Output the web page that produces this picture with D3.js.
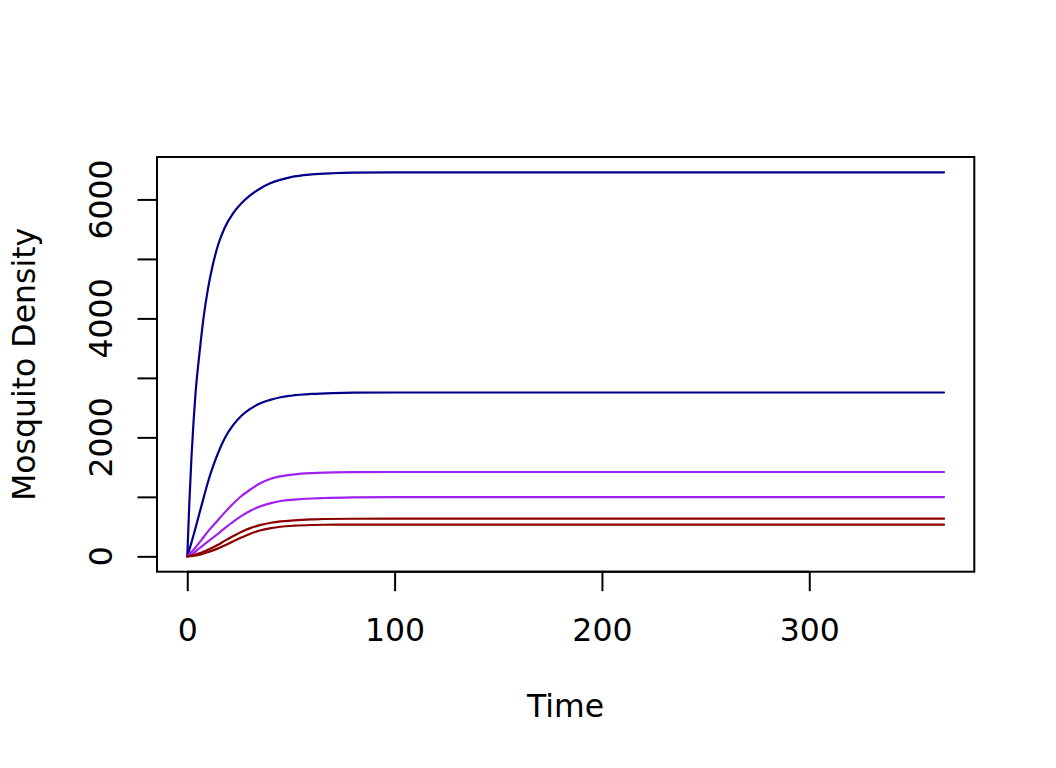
<!DOCTYPE html>
<html>
<head>
<meta charset="utf-8">
<script src="https://cdn.jsdelivr.net/npm/d3@7"></script>
<style>
  html, body { margin: 0; padding: 0; background: #ffffff; }
  svg { display: block; }
  text { font-family: "DejaVu Sans", sans-serif; fill: #000; }
</style>
</head>
<body>
<svg id="chart" width="1056" height="768"></svg>
<script>
// ---- data ----
const xTickValues = [0, 100, 200, 300];
const xTickLabels = ["0", "100", "200", "300"];
const yTickValues = [0, 1000, 2000, 3000, 4000, 5000, 6000];
const yTickLabels = ["0", "2000", "4000", "6000"];
const yLabelValues = [0, 2000, 4000, 6000];

const seriesNames = ["blue high", "blue low", "purple high", "purple low", "red high", "red low"];
const seriesColors = ["#00008B", "#00008B", "#A020F0", "#A020F0", "#8B0000", "#8B0000"];

const timeBlueHigh = [0, 1, 2, 3, 4, 6, 8, 10, 12, 15, 18, 22, 26, 30, 35, 40, 50, 60, 70, 80, 100, 150, 200, 250, 300, 365];
const valBlueHigh  = [0, 900, 1650, 2250, 2750, 3450, 4050, 4500, 4850, 5250, 5520, 5760, 5930, 6060, 6180, 6270, 6375, 6420, 6440, 6450, 6455, 6455, 6455, 6455, 6455, 6455];

const timeBlueLow = [0, 2, 4, 6, 8, 10, 12, 15, 18, 22, 26, 30, 35, 40, 45, 50, 60, 70, 80, 100, 150, 200, 250, 300, 365];
const valBlueLow  = [0, 230, 480, 740, 1000, 1250, 1470, 1750, 1980, 2200, 2360, 2470, 2570, 2630, 2675, 2700, 2730, 2745, 2752, 2754, 2754, 2754, 2754, 2754, 2754];

const timePurpleHigh = [0, 3, 6.6, 10, 14.6, 18, 22.7, 26, 30.7, 35, 40.3, 45, 51.6, 60, 66, 80, 100, 150, 200, 250, 300, 365];
const valPurpleHigh  = [0, 110, 265, 420, 600, 735, 905, 1010, 1130, 1225, 1305, 1345, 1379, 1400, 1408, 1415, 1418, 1418, 1418, 1418, 1418, 1418];

const timePurpleLow = [0, 3, 6, 8.2, 11.5, 14.6, 18, 22.7, 26, 30.7, 35, 40.3, 45, 51.6, 60, 66, 80, 100, 150, 200, 250, 300, 365];
const valPurpleLow  = [0, 55, 140, 200, 290, 375, 470, 595, 675, 770, 838, 895, 930, 953, 972, 981, 992, 997, 997, 997, 997, 997, 997];

const timeRedHigh = [0, 3, 6.6, 10, 14.6, 18, 22.7, 26, 30.7, 35, 40.3, 45, 51.6, 60, 66, 80, 100, 150, 200, 250, 300, 365];
const valRedHigh  = [0, 20, 60, 110, 190, 260, 350, 410, 478, 525, 565, 588, 605, 620, 628, 632, 634, 634, 634, 634, 634, 634];

const timeRedLow = [0, 3, 6.6, 10, 14.6, 18, 22.7, 26, 30.7, 35, 40.3, 45, 51.6, 60, 66, 80, 100, 150, 200, 250, 300, 365];
const valRedLow  = [0, 8, 32, 72, 130, 183, 262, 315, 385, 435, 474, 497, 515, 527, 531, 533, 533, 533, 533, 533, 533, 533];

const seriesTimes = [timeBlueHigh, timeBlueLow, timePurpleHigh, timePurpleLow, timeRedHigh, timeRedLow];
const seriesValues = [valBlueHigh, valBlueLow, valPurpleHigh, valPurpleLow, valRedHigh, valRedLow];

const xTitle = "Time";
const yTitle = "Mosquito Density";

// ---- layout ----
const svg = d3.select("#chart");
const plot = { left: 157, right: 974.3, top: 157, bottom: 571.7 };
const fontSize = 31.5;

// R-style 4% padding of data range
const allT = seriesTimes.flat();
const allV = seriesValues.flat();
const tMin = d3.min(allT), tMax = d3.max(allT);
const vMin = d3.min(allV), vMax = d3.max(allV);
const tPad = (tMax - tMin) * 0.04, vPad = (vMax - vMin) * 0.04;

const x = d3.scaleLinear().domain([tMin - tPad, tMax + tPad]).range([plot.left, plot.right]);
const y = d3.scaleLinear().domain([vMin - vPad, vMax + vPad]).range([plot.bottom, plot.top]);

// ---- lines ----
const line = d3.line()
  .x(d => x(d[0]))
  .y(d => y(d[1]))
  .curve(d3.curveMonotoneX);

svg.append("defs").append("clipPath").attr("id", "clip")
  .append("rect")
  .attr("x", plot.left).attr("y", plot.top)
  .attr("width", plot.right - plot.left).attr("height", plot.bottom - plot.top);

svg.append("g").attr("clip-path", "url(#clip)")
  .selectAll("path")
  .data(seriesNames.map((n, i) => ({ name: n, color: seriesColors[i], pts: seriesTimes[i].map((t, j) => [t, seriesValues[i][j]]) })))
  .join("path")
  .attr("d", d => line(d.pts))
  .attr("fill", "none")
  .attr("stroke", d => d.color)
  .attr("stroke-width", 2.2)
  .attr("stroke-linejoin", "round")
  .attr("stroke-linecap", "round");

// ---- box ----
svg.append("rect")
  .attr("x", plot.left).attr("y", plot.top)
  .attr("width", plot.right - plot.left).attr("height", plot.bottom - plot.top)
  .attr("fill", "none").attr("stroke", "#000").attr("stroke-width", 2);

// ---- x axis ----
const xAxis = d3.axisBottom(x)
  .tickValues(xTickValues)
  .tickFormat((d, i) => xTickLabels[i])
  .tickSize(19.5)
  .tickSizeOuter(0)
  .tickPadding(27);
const gx = svg.append("g").attr("transform", `translate(0,${plot.bottom})`).call(xAxis);
gx.select(".domain").attr("stroke", "#000").attr("stroke-width", 2)
  .attr("d", `M${x(xTickValues[0])},0H${x(xTickValues[xTickValues.length - 1])}`);
gx.selectAll(".tick line").attr("stroke", "#000").attr("stroke-width", 2);
gx.selectAll(".tick text")
  .attr("font-family", "DejaVu Sans").attr("font-size", fontSize).attr("fill", "#000");

// ---- y axis ----
const yAxis = d3.axisLeft(y)
  .tickValues(yTickValues)
  .tickFormat("")
  .tickSize(19.5)
  .tickSizeOuter(0);
const gy = svg.append("g").attr("transform", `translate(${plot.left},0)`).call(yAxis);
gy.select(".domain").attr("stroke", "#000").attr("stroke-width", 2)
  .attr("d", `M0,${y(yTickValues[0])}V${y(yTickValues[yTickValues.length - 1])}`);
gy.selectAll(".tick line").attr("stroke", "#000").attr("stroke-width", 2);

svg.append("g").selectAll("text")
  .data(yLabelValues)
  .join("text")
  .attr("transform", d => `translate(${plot.left - 45.5},${y(d)}) rotate(-90)`)
  .attr("text-anchor", "middle")
  .attr("font-size", fontSize)
  .text((d, i) => yTickLabels[i]);

// ---- titles ----
svg.append("text")
  .attr("x", (plot.left + plot.right) / 2)
  .attr("y", 717)
  .attr("text-anchor", "middle")
  .attr("font-size", fontSize)
  .text(xTitle);

svg.append("text")
  .attr("transform", `translate(34.5,${(plot.top + plot.bottom) / 2}) rotate(-90)`)
  .attr("text-anchor", "middle")
  .attr("font-size", fontSize)
  .text(yTitle);
</script>
</body>
</html>
